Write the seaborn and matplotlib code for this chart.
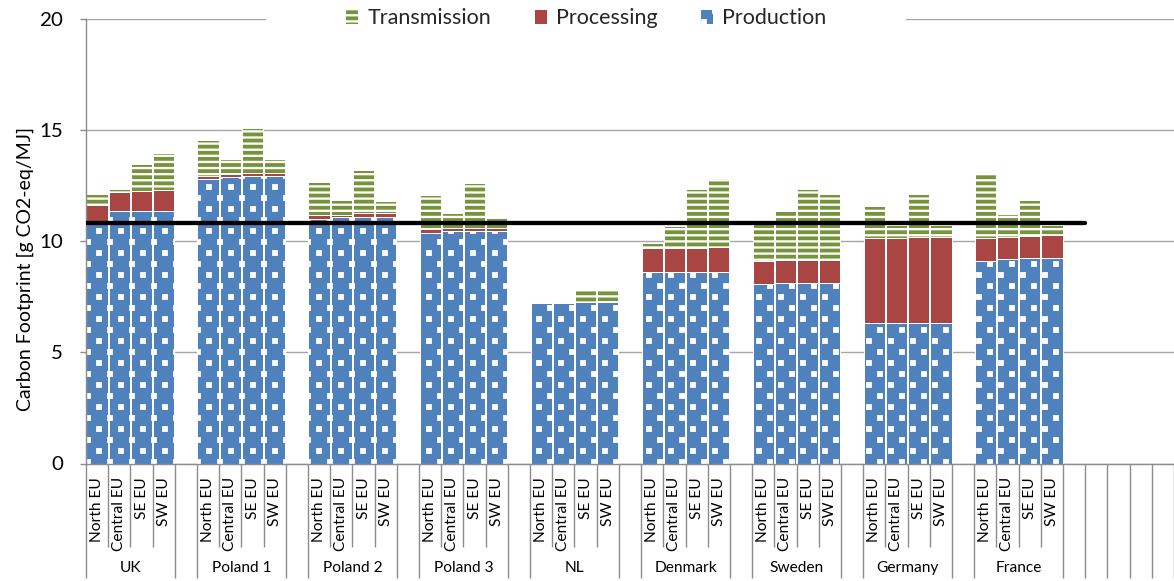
import numpy as np
import pandas as pd
import matplotlib
matplotlib.use("Agg")
import matplotlib.pyplot as plt
import matplotlib.hatch as mhatch
from matplotlib.path import Path
from matplotlib.transforms import blended_transform_factory
import seaborn as sns

# ---- data -----------------------------------------------------------------
groups = ["UK", "Poland 1", "Poland 2", "Poland 3", "NL",
          "Denmark", "Sweden", "Germany", "France"]
routes = ["North EU", "Central EU", "SE EU", "SW EU"]

# g CO2-eq/MJ, one value per (group, route), routes in the order above
production = [
    10.85, 11.37, 11.37, 11.37,   # UK
    12.79, 12.87, 12.93, 12.93,   # Poland 1
    11.02, 11.07, 11.10, 11.10,   # Poland 2
    10.35, 10.45, 10.45, 10.45,   # Poland 3
    7.20, 7.20, 7.25, 7.28,       # NL
    8.62, 8.62, 8.62, 8.62,       # Denmark
    8.07, 8.10, 8.10, 8.10,       # Sweden
    6.30, 6.30, 6.30, 6.30,       # Germany
    9.10, 9.18, 9.23, 9.23,       # France
]
processing = [
    0.77, 0.85, 0.88, 0.93,
    0.15, 0.15, 0.15, 0.15,
    0.15, 0.10, 0.15, 0.15,
    0.18, 0.15, 0.15, 0.15,
    0.02, 0.02, 0.02, 0.02,
    1.06, 1.06, 1.06, 1.10,
    1.05, 1.05, 1.05, 1.05,
    3.83, 3.83, 3.87, 3.87,
    1.05, 1.02, 1.01, 1.07,
]
transmission = [
    0.50, 0.15, 1.22, 1.65,
    1.61, 0.70, 2.01, 0.60,
    1.49, 0.68, 1.95, 0.55,
    1.54, 0.68, 2.04, 0.44,
    0.04, 0.04, 0.53, 0.50,
    0.25, 1.00, 2.69, 3.13,
    1.65, 2.32, 3.22, 2.97,
    1.45, 0.59, 1.95, 0.55,
    2.94, 1.02, 1.61, 0.42,
]
reference_level = 10.8
y_ticks = [0, 5, 10, 15, 20]
series_order = ["Transmission", "Processing", "Production"]

# ---- layout constants -------------------------------------------------------
DPI = 110
W, H = 1174, 581
SLOT_STEP = len(routes) + 1          # four bars plus one spacer per group
N_SLOTS = 49                          # category positions on the axis (incl. blanks)
AX_LEFT, AX_RIGHT, AX_TOP, AX_BOTTOM = 86, 1174, 19, 463.5

GREEN = "#77933C"
RED = "#A94643"
BLUE = "#4F81BD"
GRID = "#A6A6A6"
AXIS = "#8C8C8C"


def pt(pixels):
    return pixels * 72 / DPI


class SquareDots(mhatch.HatchPatternBase):
    """Staggered grid of small filled squares used for the '.' hatch."""

    def __init__(self, hatch, density):
        n = hatch.count(".")
        cols = 5 * n
        rows = 2 * cols
        centers = []
        if n:
            for r in range(rows + 1):
                y = r / rows
                if r % 2 == 0:
                    xs = [c / cols for c in range(cols + 1)]
                else:
                    xs = [(c + 0.5) / cols for c in range(cols)]
                centers += [(x, y) for x in xs]
        self.centers = centers
        self.half = 0.016
        self.num_vertices = 5 * len(centers)

    def set_vertices_and_codes(self, vertices, codes):
        h = self.half
        square = np.array([[-h, -h], [h, -h], [h, h], [-h, h], [-h, -h]])
        square_codes = [Path.MOVETO, Path.LINETO, Path.LINETO,
                        Path.LINETO, Path.CLOSEPOLY]
        for i, (x, y) in enumerate(self.centers):
            vertices[5 * i:5 * i + 5] = square + (x, y)
            codes[5 * i:5 * i + 5] = square_codes


mhatch._hatch_types[mhatch._hatch_types.index(mhatch.SmallFilledCircles)] = SquareDots

sns.set_style("white")
plt.rcParams["font.family"] = ["Lato", "DejaVu Sans"]
plt.rcParams["hatch.linewidth"] = pt(2.3)

# ---- table ------------------------------------------------------------------
slots = [g * SLOT_STEP + r for g in range(len(groups)) for r in range(len(routes))]
df = pd.DataFrame({
    "slot": slots,
    "group": np.repeat(groups, len(routes)),
    "route": routes * len(groups),
    "production": production,
    "processing": processing,
    "transmission": transmission,
})
df["proc_top"] = df["production"] + df["processing"]
df["total"] = df["proc_top"] + df["transmission"]

# ---- figure -----------------------------------------------------------------
fig = plt.figure(figsize=(W / DPI, H / DPI), dpi=DPI)
ax = fig.add_axes([AX_LEFT / W, (H - AX_BOTTOM) / H,
                   (AX_RIGHT - AX_LEFT) / W, (AX_BOTTOM - AX_TOP) / H])

bar_kw = dict(native_scale=True, width=0.96, errorbar=None, saturation=1,
              edgecolor="white", linewidth=pt(1.0), ax=ax)
# stacked layers drawn as overlapping cumulative bars
sns.barplot(data=df, x="slot", y="total", color=GREEN, hatch="---",
            label="Transmission", **bar_kw)
sns.barplot(data=df, x="slot", y="proc_top", color=RED,
            label="Processing", **bar_kw)
sns.barplot(data=df, x="slot", y="production", color=BLUE, hatch=".",
            label="Production", **bar_kw)

line_end = len(groups) * SLOT_STEP - 0.5
sns.lineplot(x=[-0.5, line_end], y=[reference_level, reference_level],
             color="black", linewidth=pt(4.3), ax=ax, zorder=5)

# ---- axes styling -----------------------------------------------------------
ax.set_xlim(-0.5, N_SLOTS - 0.5)
ax.set_ylim(y_ticks[0], y_ticks[-1])
ax.set_yticks(y_ticks)
ax.set_yticklabels([str(t) for t in y_ticks])
ax.set_xticks([])
ax.set_xlabel("")
ax.yaxis.grid(True, color=GRID, linewidth=pt(1.4))
ax.xaxis.grid(False)
ax.set_axisbelow(True)
for side in ("top", "right"):
    ax.spines[side].set_visible(False)
for side in ("bottom", "left"):
    ax.spines[side].set_color(AXIS)
    ax.spines[side].set_linewidth(pt(1.4))
ax.tick_params(axis="y", direction="out", length=pt(6), width=pt(1.4),
               color=AXIS, pad=pt(17), labelsize=pt(20.5), labelcolor="black",
               left=True)

ax.set_ylabel("Carbon Footprint [g CO2-eq/MJ]", fontsize=pt(19.5), color="black")
ax.yaxis.set_label_coords((34 - AX_LEFT) / (AX_RIGHT - AX_LEFT), 0.4376)

# ---- two-level category axis --------------------------------------------------
trans = blended_transform_factory(ax.transData, ax.transAxes)
ax_h = AX_BOTTOM - AX_TOP
short_end = -(547 - AX_BOTTOM) / ax_h
long_end = -(578 - AX_BOTTOM) / ax_h


def bar_group(s):
    if s < 0 or s >= len(groups) * SLOT_STEP or s % SLOT_STEP >= len(routes):
        return None
    return s // SLOT_STEP


for k in range(N_SLOTS + 1):
    left, right = bar_group(k - 1), bar_group(k)
    inner = left is not None and left == right
    ax.plot([k - 0.5, k - 0.5], [0, short_end if inner else long_end],
            transform=trans, color=AXIS, linewidth=pt(1.4), clip_on=False,
            solid_capstyle="butt")

route_y = -(477 - AX_BOTTOM) / ax_h
group_y = -(568 - AX_BOTTOM) / ax_h
for s, r in zip(df["slot"], df["route"]):
    ax.text(s, route_y, r, transform=trans, rotation=90, ha="center",
            va="top", fontsize=pt(15.5), color="black")
for g, name in enumerate(groups):
    ax.text(g * SLOT_STEP + (len(routes) - 1) / 2, group_y, name,
            transform=trans, ha="center", va="center",
            fontsize=pt(15.5), color="black")

# ---- legend -----------------------------------------------------------------
handles, labels = ax.get_legend_handles_labels()
lookup = dict(zip(labels, handles))
leg = ax.legend([lookup[s] for s in series_order], series_order,
                loc="center",
                bbox_to_anchor=((586 - AX_LEFT) / (AX_RIGHT - AX_LEFT),
                                (AX_BOTTOM - 18) / ax_h),
                ncol=3, frameon=True, fancybox=False, framealpha=1,
                facecolor="white", edgecolor="none", borderpad=3.7,
                handlelength=0.6, handleheight=0.75, handletextpad=0.45,
                columnspacing=1.95, fontsize=pt(21.5))

fig.savefig("out.png", dpi=DPI)
